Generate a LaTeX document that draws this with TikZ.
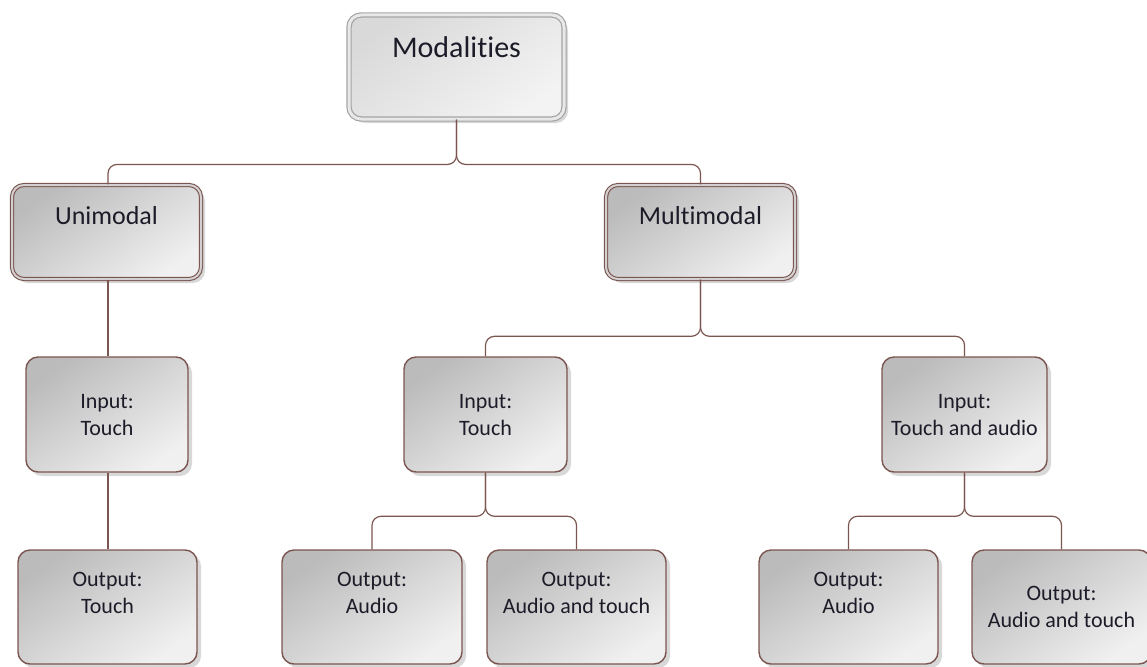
\documentclass[tikz,border=0pt]{standalone}
\usepackage{fontspec}
\setmainfont[Ligatures={NoCommon}]{Carlito}
\usetikzlibrary{shadows,calc}
\definecolor{linec}{HTML}{7B5550}
\definecolor{txtc}{HTML}{1C1C28}
\definecolor{fillA}{HTML}{BCBBBC}
\definecolor{fillB}{HTML}{F1F0F1}
\definecolor{fillC}{HTML}{DAD9DA}
\definecolor{fillD}{HTML}{F4F3F4}
\definecolor{shad}{HTML}{D8D8D8}
\definecolor{modline}{HTML}{A4A4A4}
\definecolor{modgap}{HTML}{E8E8E8}
\definecolor{unigap}{HTML}{D2D0D0}
\begin{document}
\begin{tikzpicture}[x=1pt,y=-1pt,
  boxbase/.style={rectangle, rounded corners=12pt, inner sep=0pt,
    top color=fillA, bottom color=fillB, shading angle=35,
    drop shadow={shadow xshift=4pt, shadow yshift=-4pt, fill=shad, opacity=1}},
  leafbox/.style={boxbase, draw=linec, line width=1.4pt},
  midbox/.style={boxbase, draw=linec, line width=1.1pt, double=unigap, double distance=2pt},
  topbox/.style={boxbase, top color=fillC, bottom color=fillD, shading angle=35,
    draw=modline, line width=1.2pt, double=modgap, double distance=3pt},
  conn/.style={draw=linec, line width=1.2pt, rounded corners=9pt},
  lbl/.style={text=txtc, align=center, font=\fontsize{22}{27}\selectfont},
  midlbl/.style={text=txtc, font=\fontsize{26}{31}\selectfont},
  toplbl/.style={text=txtc, font=\fontsize{30}{36}\selectfont}]
\useasboundingbox (0,0) rectangle (1147,666);

% boxes
\node[topbox, minimum width=215pt, minimum height=104pt] (mod) at (456.5,67) {};
\node[midbox, minimum width=189pt, minimum height=94pt] (uni) at (106.5,232) {};
\node[midbox, minimum width=189pt, minimum height=94pt] (multi) at (700.5,232) {};
\node[leafbox, minimum width=162pt, minimum height=115pt] (in1) at (107,414.5) {};
\node[leafbox, minimum width=163pt, minimum height=115pt] (in2) at (485.5,414.5) {};
\node[leafbox, minimum width=165pt, minimum height=115pt] (in3) at (964.5,414.5) {};
\node[leafbox, minimum width=179pt, minimum height=114pt] (out1) at (107.5,607) {};
\node[leafbox, minimum width=180pt, minimum height=114pt] (out2) at (372,607) {};
\node[leafbox, minimum width=179pt, minimum height=114pt] (out3) at (576.5,607) {};
\node[leafbox, minimum width=179pt, minimum height=114pt] (out4) at (848.5,607) {};
\node[leafbox, minimum width=179pt, minimum height=114pt] (out5) at (1061.5,607) {};

% labels
\node[toplbl] (tmod) at (456.5,47) {Modalities};
\node[midlbl] (tuni) at (106.5,216) {Unimodal};
\node[midlbl] (tmulti) at (700.5,216) {Multimodal};
\node[lbl] (tin1) at (107,415) {Input:\\Touch};
\node[lbl] (tin2) at (485.5,415) {Input:\\Touch};
\node[lbl] (tin3) at (964.5,415) {Input:\\Touch and audio};
\node[lbl] (tout1) at (107.5,593) {Output:\\Touch};
\node[lbl] (tout2) at (372,593) {Output:\\Audio};
\node[lbl] (tout3) at (576.5,593) {Output:\\Audio and touch};
\node[lbl] (tout4) at (848.5,593) {Output:\\Audio};
\node[lbl] (tout5) at (1061.5,607) {Output:\\Audio and touch};

% connectors
\draw[conn] (mod.south) |- ($(uni.north)+(1.5,-20)$) -- ($(uni.north)+(1.5,0)$);
\draw[conn] (mod.south) |- ($(multi.north)+(0,-20)$) -- (multi.north);
\draw[conn] ($(uni.south)+(1.5,0)$) -- ($(in1.north)+(1,0)$);
\draw[conn] ($(in1.south)+(1,0)$) -- ($(out1.north)+(0.5,0)$);
\draw[conn] (multi.south) |- ($(in2.north)+(0,-20)$) -- (in2.north);
\draw[conn] (multi.south) |- ($(in3.north)+(0,-20)$) -- (in3.north);
\draw[conn] (in2.south) |- ($(out2.north)+(0,-33)$) -- (out2.north);
\draw[conn] (in2.south) |- ($(out3.north)+(0,-33)$) -- (out3.north);
\draw[conn] (in3.south) |- ($(out4.north)+(0,-33)$) -- (out4.north);
\draw[conn] (in3.south) |- ($(out5.north)+(0,-33)$) -- (out5.north);
\end{tikzpicture}
\end{document}
